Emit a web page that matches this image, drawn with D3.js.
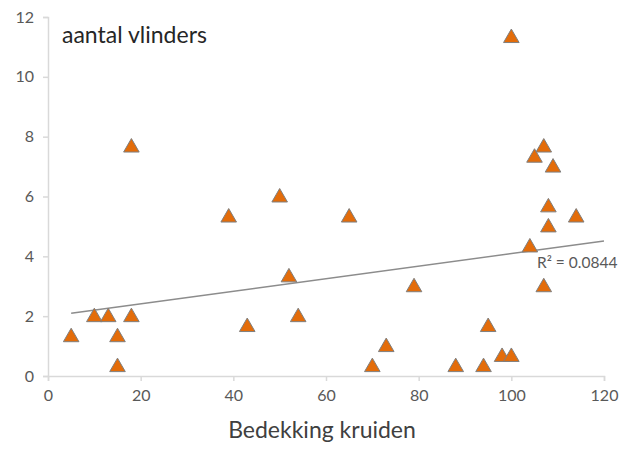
<!DOCTYPE html>
<html>
<head>
<meta charset="utf-8">
<script src="https://cdn.jsdelivr.net/npm/d3@7"></script>
<style>
  html, body { margin: 0; padding: 0; background: #fff; }
  svg { display: block; }
  text { font-family: Lato, "Open Sans", sans-serif; }
</style>
</head>
<body>
<svg id="chart" width="629" height="455"></svg>
<script>
// Bedekking kruiden (x) against aantal vlinders (y)
const bedekking = [5, 10, 13, 15, 15, 18, 18, 39, 43, 50, 52, 54, 65, 70, 73, 79,
                   88, 94, 95, 98, 100, 100, 104, 105, 107, 107, 108, 108, 109, 114];
const vlinders  = [1.33, 2, 2, 1.33, 0.33, 2, 7.67, 5.33, 1.67, 6, 3.33, 2, 5.33, 0.33, 1, 3,
                   0.33, 0.33, 1.67, 0.67, 0.67, 11.33, 4.33, 7.33, 7.67, 3, 5.67, 5, 7, 5.33];

// Linear trend line (start and end) and its fit
const trendX = [5, 120];
const trendY = [2.1, 4.51];
const rSquared = "0.0844";

const xTicks = [0, 20, 40, 60, 80, 100, 120];
const yTicks = [0, 2, 4, 6, 8, 10, 12];

const yTitle = "aantal vlinders";
const xTitle = "Bedekking kruiden";

const svg = d3.select("#chart");
const plotLeft = 48, plotRight = 604, plotTop = 17, plotBottom = 376;

const x = d3.scaleLinear().domain([0, 120]).range([plotLeft, plotRight]);
const y = d3.scaleLinear().domain([0, 12]).range([plotBottom, plotTop]);

const axisColor = "#d9d9d9";
const labelColor = "#595959";

// Axes
const xAxis = svg.append("g")
  .attr("transform", `translate(0,${plotBottom})`)
  .call(d3.axisBottom(x).tickValues(xTicks).tickSize(5).tickPadding(9).tickFormat(d3.format("d")));
const yAxis = svg.append("g")
  .attr("transform", `translate(${plotLeft},0)`)
  .call(d3.axisLeft(y).tickValues(yTicks).tickSize(5).tickPadding(9).tickFormat(d3.format("d")));

[xAxis, yAxis].forEach(g => {
  g.select(".domain").attr("stroke", axisColor).attr("stroke-width", 1.5);
  g.selectAll(".tick line").attr("stroke", axisColor).attr("stroke-width", 1.5);
  g.selectAll(".tick text")
    .attr("fill", labelColor)
    .style("font-family", "Lato, 'Open Sans', sans-serif")
    .style("font-size", "16px");
});

// Trend line
svg.append("line")
  .attr("x1", x(trendX[0])).attr("y1", y(trendY[0]))
  .attr("x2", x(trendX[1])).attr("y2", y(trendY[1]))
  .attr("stroke", "#8c8c8c")
  .attr("stroke-width", 1.5);

// Triangle markers
const tri = d3.symbol().type(d3.symbolTriangle).size(105);
svg.append("g")
  .selectAll("path")
  .data(bedekking.map((b, i) => ({ b, v: vlinders[i] })))
  .join("path")
  .attr("d", tri)
  .attr("transform", d => `translate(${x(d.b)},${y(d.v) + 1})`)
  .attr("fill", "#e36c0a")
  .attr("stroke", "#7f7f7f")
  .attr("stroke-width", 1);

// R² label
svg.append("text")
  .attr("x", 537)
  .attr("y", 268)
  .attr("fill", labelColor)
  .style("font-size", "15.5px")
  .text("R² = " + rSquared);

// Titles
svg.append("text")
  .attr("x", 62)
  .attr("y", 43)
  .attr("fill", "#262626")
  .style("font-size", "23px")
  .text(yTitle);

svg.append("text")
  .attr("x", 322)
  .attr("y", 438)
  .attr("text-anchor", "middle")
  .attr("fill", "#404040")
  .style("font-size", "23px")
  .text(xTitle);
</script>
</body>
</html>
